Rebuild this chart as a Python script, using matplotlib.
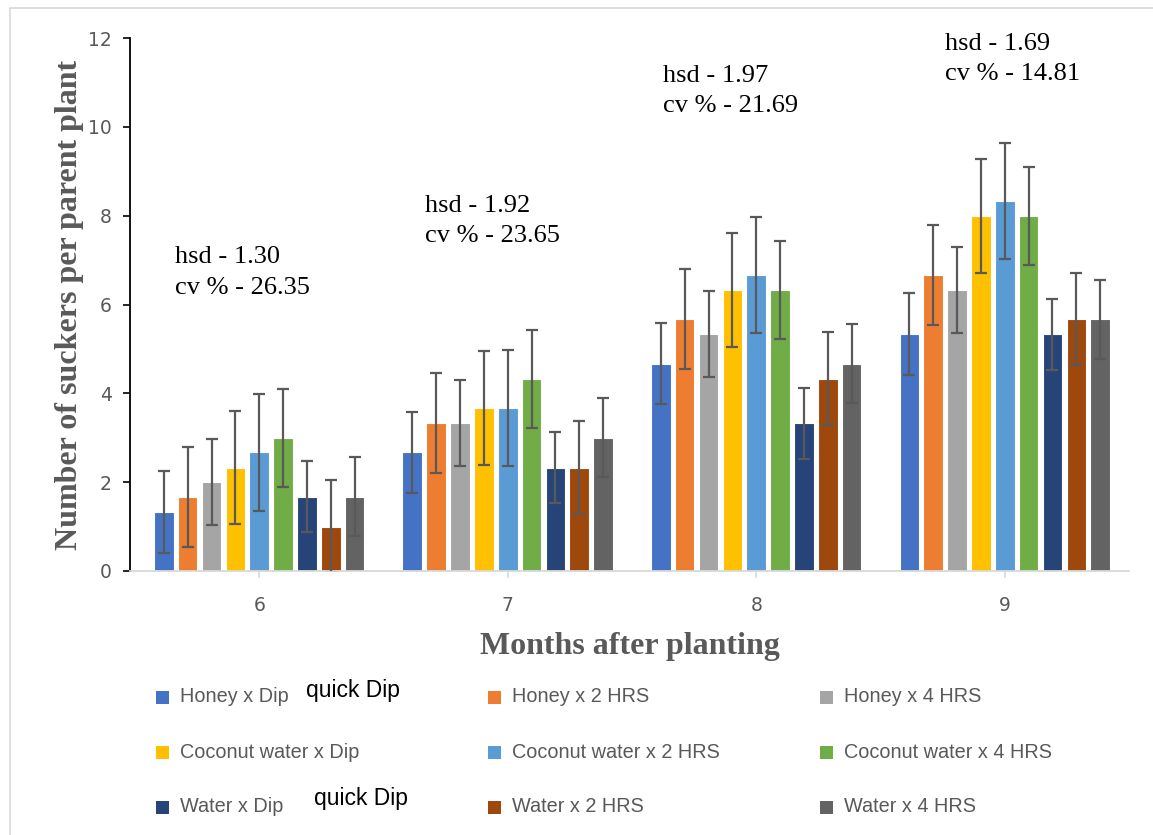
import matplotlib
matplotlib.use("Agg")
import matplotlib.pyplot as plt
from matplotlib.patches import Rectangle
import numpy as np

# Du lieu doc tu hinh goc
months = ["6", "7", "8", "9"]
series = ["Honey x Dip", "Honey x 2 HRS", "Honey x 4 HRS",
          "Coconut water x Dip", "Coconut water x 2 HRS", "Coconut water x 4 HRS",
          "Water x Dip", "Water x 2 HRS", "Water x 4 HRS"]
colors = ["#4472C4", "#ED7D31", "#A5A5A5", "#FFC000", "#5B9BD5", "#70AD47",
          "#264478", "#9E480E", "#636363"]

# moi hang = mot nghiem thuc, moi cot = mot thang (6, 7, 8, 9)
honey_dip   = [1.33, 2.67, 4.67, 5.33]
honey_2h    = [1.67, 3.33, 5.67, 6.67]
honey_4h    = [2.00, 3.33, 5.33, 6.33]
coco_dip    = [2.33, 3.67, 6.33, 8.00]
coco_2h     = [2.67, 3.67, 6.67, 8.33]
coco_4h     = [3.00, 4.33, 6.33, 8.00]
water_dip   = [1.67, 2.33, 3.33, 5.33]
water_2h    = [1.00, 2.33, 4.33, 5.67]
water_4h    = [1.67, 3.00, 4.67, 5.67]
values = [honey_dip, honey_2h, honey_4h, coco_dip, coco_2h, coco_4h,
          water_dip, water_2h, water_4h]

# sai so (error bar) cua tung nghiem thuc
errors = [0.92, 1.13, 0.97, 1.28, 1.31, 1.10, 0.80, 1.04, 0.89]

# chu thich hsd / cv cho tung thang
stat_text = ["hsd - 1.30\ncv % - 26.35", "hsd - 1.92\ncv % - 23.65",
             "hsd - 1.97\ncv % - 21.69", "hsd - 1.69\ncv % - 14.81"]
stat_xy = [(175, 246), (425, 195), (663, 65), (945, 33)]   # pixel (trai, tren)

W, H = 1153, 835
GRAY = "#595959"

fig = plt.figure(figsize=(W / 100, H / 100), dpi=100)
ax = fig.add_axes([130 / W, 1 - 571 / H, (1129 - 130) / W, (571 - 38) / H])

x = np.arange(len(months))
pitch = 0.096
width = 0.079
for i, (vals, c) in enumerate(zip(values, colors)):
    pos = x + (i - 4) * pitch
    ax.bar(pos, vals, width, color=c, edgecolor="white", linewidth=0.8, zorder=2)
    ax.errorbar(pos, vals, yerr=errors[i], fmt="none", ecolor="#595959",
                elinewidth=1.6, capsize=4.5, capthick=1.6, zorder=3)

ax.set_xlim(-0.52, 3.5)
ax.set_ylim(0, 12)
ax.set_yticks(range(0, 13, 2))
ax.set_xticks(x)
ax.set_xticklabels(months)

for s in ["top", "right"]:
    ax.spines[s].set_visible(False)
ax.spines["left"].set_color("black")
ax.spines["left"].set_linewidth(1.3)
ax.spines["bottom"].set_color("#D9D9D9")
ax.spines["bottom"].set_linewidth(1.3)
ax.tick_params(axis="y", colors="black", labelcolor=GRAY, labelsize=13.5,
               length=5, width=1.2, pad=8)
ax.tick_params(axis="x", colors="#D9D9D9", labelcolor=GRAY, labelsize=13.5,
               length=5, width=1.2, pad=13)

ax.set_xlabel("Months after planting", family="Liberation Serif", fontweight="bold",
              fontsize=23, color=GRAY, labelpad=12)
ax.set_ylabel("Number of suckers per parent plant", family="Liberation Serif",
              fontweight="bold", fontsize=23, color=GRAY, labelpad=3)

for txt, (px, py) in zip(stat_text, stat_xy):
    fig.text(px / W, 1 - py / H, txt, family="Liberation Serif", fontsize=19,
             color="black", ha="left", va="top", linespacing=1.5)

# chu giai (legend) 3 cot x 3 hang, ve thu cong
col_x = [156, 488, 820]
row_y = [697, 752, 807]
sq = 13
for i, (name, c) in enumerate(zip(series, colors)):
    cx = col_x[i % 3]
    cy = row_y[i // 3]
    fig.patches.append(Rectangle((cx / W, 1 - (cy + sq / 2) / H), sq / W, sq / H,
                                 transform=fig.transFigure, facecolor=c,
                                 edgecolor="none"))
    fig.text((cx + 24) / W, 1 - cy / H, name, family="Liberation Sans",
             fontsize=14.3, color=GRAY, ha="left", va="center")

# o chu "quick Dip" dan de len chu giai
for px, py in [(306, 690), (314, 798)]:
    fig.text(px / W, 1 - py / H, "quick Dip", family="Liberation Sans",
             fontsize=16.5, color="black", ha="left", va="center",
             bbox=dict(facecolor="white", edgecolor="none", pad=1.5))

# khung vien bieu do
fig.patches.append(Rectangle((10 / W, -0.1), 1.2, 1 - 8 / H + 0.1,
                             transform=fig.transFigure, facecolor="none",
                             edgecolor="#D9D9D9", linewidth=1.2))

fig.savefig("out.png", dpi=100)
